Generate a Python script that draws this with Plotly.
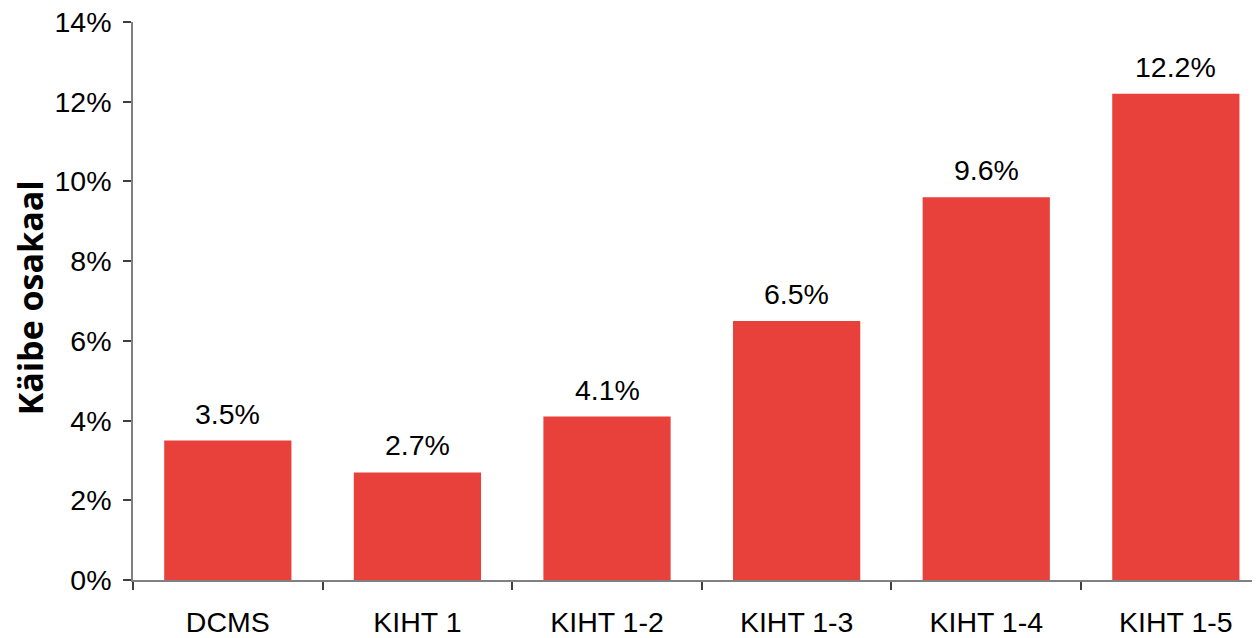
import plotly.graph_objects as go

categories = ["DCMS", "KIHT 1", "KIHT 1-2", "KIHT 1-3", "KIHT 1-4", "KIHT 1-5"]
values = [3.5, 2.7, 4.1, 6.5, 9.6, 12.2]
labels = ["3.5%", "2.7%", "4.1%", "6.5%", "9.6%", "12.2%"]
y_ticks = [0, 2, 4, 6, 8, 10, 12, 14]
y_tick_text = ["0%", "2%", "4%", "6%", "8%", "10%", "12%", "14%"]
y_title = "Käibe osakaal"

FONT = "Liberation Sans, Arial, sans-serif"
FS = 28.5

fig = go.Figure()
fig.add_trace(go.Bar(
    x=categories, y=values,
    marker=dict(color="#E8403A", line=dict(width=0)),
    hoverinfo="skip",
))

for c, v, t in zip(categories, values, labels):
    fig.add_annotation(x=c, y=v, text=t, showarrow=False, yanchor="bottom",
                       yshift=9, font=dict(family=FONT, size=FS, color="black"))

fig.add_annotation(xref="paper", yref="paper", x=-0.091, y=0.506,
                   text="<b>" + y_title + "</b>", textangle=-90, showarrow=False,
                   xanchor="center", yanchor="middle",
                   font=dict(family="Open Sans, sans-serif", size=34, color="black"))

fig.update_layout(
    width=1260, height=638,
    margin=dict(l=125, r=0, t=14, b=66, autoexpand=False),
    plot_bgcolor="white", paper_bgcolor="white",
    bargap=0.329, showlegend=False,
    font=dict(family=FONT, size=FS, color="black"),
)
fig.update_xaxes(
    type="category", range=[-0.5, 5.486], tickson="boundaries",
    ticks="outside", ticklen=8, tickcolor="#404040", tickwidth=1.5,
    showline=True, linecolor="#808080", linewidth=1.5,
    showgrid=False, zeroline=False, ticklabelstandoff=16,
    ticklabeloverflow="allow",
    tickfont=dict(family=FONT, size=FS, color="black"),
)
fig.update_yaxes(
    range=[0, 14], tickvals=y_ticks, ticktext=y_tick_text,
    ticks="outside", ticklen=8, tickcolor="#404040", tickwidth=1.5,
    showline=True, linecolor="#808080", linewidth=1.5,
    showgrid=False, zeroline=False, ticklabelstandoff=6,
    ticklabeloverflow="allow",
    tickfont=dict(family=FONT, size=FS, color="black"),
)

fig.write_html("out.html")
